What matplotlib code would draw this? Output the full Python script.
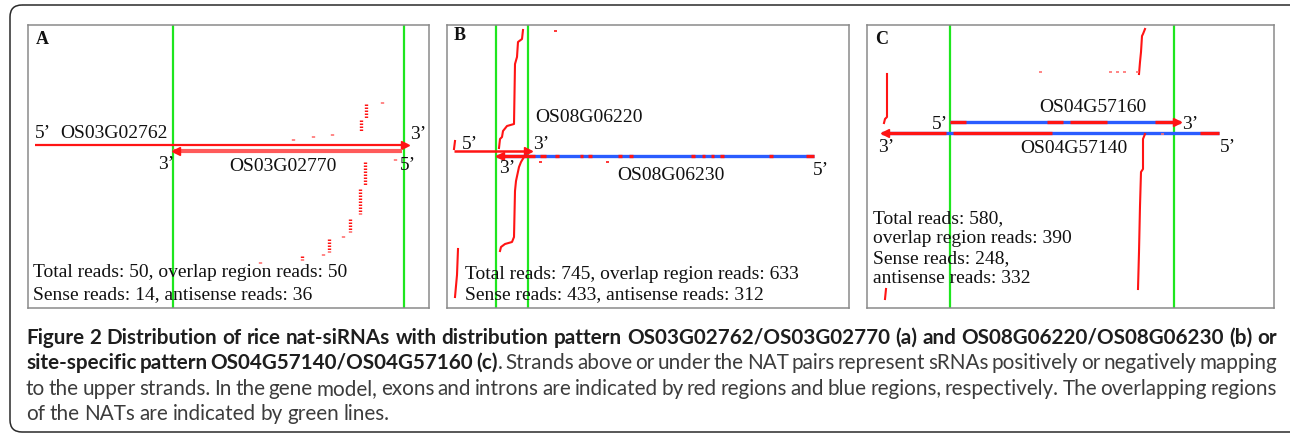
import numpy as np
import matplotlib
matplotlib.use('Agg')
import matplotlib.pyplot as plt
from matplotlib.patches import FancyBboxPatch

# ---- data (panel pixel-like units: x = locus position, y = stack depth from top) ----
# panel A : OS03G02762 / OS03G02770
a_upper = (7, 380, 120)           # start, end, y   (arrow points right)
a_lower = (145, 374, 126)         # arrow points left
a_overlap = [145, 376]
a_sense_x = [265, 285, 304, 333, 338, 354]
a_sense_top = [114, 111, 109, 95, 79, 77]
a_sense_bot = [115, 112, 110, 106, 94, 78]
a_anti_x = [337, 332, 322, 315, 301, 295, 274, 232, 367]
a_anti_top = [137, 164, 194, 211, 214, 229, 231, 237, 134]
a_anti_bot = [161, 189, 207, 212, 227, 230, 235, 238, 135]

# panel B : OS08G06220 / OS08G06230
b_upper = (7, 84, 126)
b_lower = (50, 367, 131)
b_lower_exons = [(50, 88), (93, 99), (108, 112), (133, 136), (141, 145), (171, 175),
                 (182, 186), (244, 248), (255, 258), (264, 267), (273, 277),
                 (322, 326), (359, 367)]
b_overlap = [49, 81]
b_sense_x = [76, 75, 71, 70, 68, 67, 60, 56, 55, 53, 52]
b_sense_y = [5, 14, 17, 32, 39, 99, 101, 106, 112, 114, 123]
b_anti_x = [77, 74, 72, 69, 68, 67, 65, 58, 54, 53]
b_anti_y = [132, 137, 142, 156, 166, 212, 217, 219, 222, 226]
b_edge_sense_x, b_edge_sense_y = [8, 7], [116, 124]
b_edge_anti_x, b_edge_anti_y = [11, 10, 8], [224, 250, 272]
b_single_x = [108, 93, 160]
b_single_y = [6, 137, 137]

# panel C : OS04G57160 / OS04G57140
c_upper = (83, 313, 97)
c_upper_exons = [(83, 99), (180, 196), (203, 240), (288, 313)]
c_lower = (15, 352, 108)
c_lower_exons = [(15, 79), (86, 185), (333, 352)]
c_overlap = [83, 307]
c_sense_x = [278, 276, 275, 274, 273, 272]
c_sense_y = [4, 9, 11, 27, 37, 49]
c_sense2_x = [20, 20, 18, 17]
c_sense2_y = [49, 92, 94, 98]
c_anti_x = [278, 276, 276, 274, 273, 272, 271]
c_anti_y = [109, 114, 144, 147, 181, 227, 264]
c_anti2_x, c_anti2_y = [19, 18], [264, 274]
c_single_x = [173, 243, 250, 257, 270, 295]
c_single_y = [47, 47, 47, 47, 47, 109]

RED = '#ff1414'
BLUE = '#2a5cff'
GREEN = '#1ee61e'
SERIF = 'Liberation Serif'

W, H = 1290, 435
fig = plt.figure(figsize=(12.9, 4.35), dpi=100)

bg = fig.add_axes([0, 0, 1, 1])
bg.set_xlim(0, W)
bg.set_ylim(H, 0)
bg.axis('off')
bg.add_patch(FancyBboxPatch((10, 6), 1310, 427, boxstyle='round,pad=0,rounding_size=12',
                            fill=False, ec='#2a2a2a', lw=1.1))


def panel(x0, y0, x1, y1):
    ax = fig.add_axes([x0 / W, 1 - y1 / H, (x1 - x0) / W, (y1 - y0) / H])
    ax.set_xlim(0, x1 - x0)
    ax.set_ylim(y1 - y0, 0)
    ax.set_xticks([])
    ax.set_yticks([])
    for s in ax.spines.values():
        s.set_color('#8a8a8a')
        s.set_linewidth(1.1)
    return ax


def gene(ax, g, exons=None, direction=1, lw=2.2, color=RED):
    x0, x1, y = g
    if exons is None:
        ax.plot([x0, x1], [y, y], color=color, lw=lw, solid_capstyle='butt')
    else:
        ax.plot([x0, x1], [y, y], color=BLUE, lw=lw, solid_capstyle='butt')
        for e0, e1 in exons:
            ax.plot([e0, e1], [y, y], color=RED, lw=lw, solid_capstyle='butt')
    if direction > 0:
        ax.plot([x1 - 3], [y], marker='>', ms=6, color=RED, mec=RED)
    else:
        ax.plot([x0 + 3], [y], marker='<', ms=6, color=RED, mec=RED)


def label(ax, x, y, s, ha='left', size=14, weight='normal'):
    ax.text(x, y, s, ha=ha, va='center', family=SERIF, fontsize=size,
            fontweight=weight, color='#111111')


# ---- panel A ----
ax = panel(28, 26, 429, 309)
for x in a_overlap:
    ax.axvline(x, color=GREEN, lw=1.6)
gene(ax, a_upper, direction=1, lw=1.6)
gene(ax, a_lower, direction=-1, lw=3.0, color='#ff5a5a')
ax.vlines(a_sense_x, a_sense_top, a_sense_bot, color=RED, lw=2.4, linestyles=(0, (0.45, 0.45)))
ax.vlines(a_anti_x, a_anti_top, a_anti_bot, color=RED, lw=2.4, linestyles=(0, (0.45, 0.45)))
label(ax, 8, 13, 'A', size=13, weight='bold')
label(ax, 7, 108, '5’')
label(ax, 32, 108, 'OS03G02762')
label(ax, 382, 109, '3’')
label(ax, 130, 139, '3’')
label(ax, 255, 141, 'OS03G02770', ha='center')
label(ax, 372, 140, '5’')
label(ax, 5, 247, 'Total reads: 50, overlap region reads: 50')
label(ax, 5, 269, 'Sense reads: 14, antisense reads: 36')

# ---- panel B ----
ax = panel(447, 26, 849, 309)
for x in b_overlap:
    ax.axvline(x, color=GREEN, lw=1.6)
gene(ax, b_upper, direction=1, lw=1.8)
gene(ax, b_lower, exons=b_lower_exons, direction=-1, lw=2.4)
for xs, ys in [(b_sense_x, b_sense_y), (b_anti_x, b_anti_y),
               (b_edge_sense_x, b_edge_sense_y), (b_edge_anti_x, b_edge_anti_y)]:
    ax.plot(xs, ys, color=RED, lw=1.5)
ax.hlines(b_single_y, np.array(b_single_x) - 1.5, np.array(b_single_x) + 1.5, color=RED, lw=1.2)
label(ax, 7, 10, 'B', size=13, weight='bold')
label(ax, 15, 119, '5’')
label(ax, 86, 119, '3’')
label(ax, 88, 92, 'OS08G06220')
label(ax, 52, 143, '3’')
label(ax, 224, 150, 'OS08G06230', ha='center')
label(ax, 366, 145, '5’')
label(ax, 18, 249, 'Total reads: 745, overlap region reads: 633')
label(ax, 18, 269, 'Sense reads: 433, antisense reads: 312')

# ---- panel C ----
ax = panel(867, 26, 1274, 309)
for x in c_overlap:
    ax.axvline(x, color=GREEN, lw=1.6)
gene(ax, c_upper, exons=c_upper_exons, direction=1, lw=2.4)
gene(ax, c_lower, exons=c_lower_exons, direction=-1, lw=2.4)
for xs, ys in [(c_sense_x, c_sense_y), (c_sense2_x, c_sense2_y),
               (c_anti_x, c_anti_y), (c_anti2_x, c_anti2_y)]:
    ax.plot(xs, ys, color=RED, lw=1.5)
ax.hlines(c_single_y, np.array(c_single_x) - 1.5, np.array(c_single_x) + 1.5, color='#ff7070', lw=1.2)
label(ax, 8, 13, 'C', size=13, weight='bold')
label(ax, 226, 81, 'OS04G57160', ha='center')
label(ax, 65, 99, '5’')
label(ax, 315, 99, '3’')
label(ax, 11, 122, '3’')
label(ax, 207, 123, 'OS04G57140', ha='center')
label(ax, 353, 122, '5’')
for i, s in enumerate(['Total reads: 580,', 'overlap region reads: 390',
                       'Sense reads: 248,', 'antisense reads: 332']):
    label(ax, 6, 193 + 20 * i, s)

# ---- caption (justified) ----
CAP_FONT = 'Lato'
bold_1 = ('Figure 2 Distribution of rice nat-siRNAs with distribution pattern '
          'OS03G02762/OS03G02770 (a) and OS08G06220/OS08G06230 (b) or')
bold_2 = 'site-specific pattern OS04G57140/OS04G57160 (c)'
reg_2 = '. Strands above or under the NAT pairs represent sRNAs positively or negatively mapping'
reg_3 = ('to the upper strands. In the gene model, exons and introns are indicated by red '
         'regions and blue regions, respectively. The overlapping regions')
reg_4 = 'of the NATs are indicated by green lines.'
X0, X1 = 26, 1277

renderer = fig.canvas.get_renderer()

# pick the size at which the first (bold) line fills the column width
probe = bg.text(0, 0, bold_1, family=CAP_FONT, fontsize=12, fontweight='bold')
CAP_SIZE = 12 * (X1 - X0) / probe.get_window_extent(renderer).width * 0.995
probe.remove()


def tokens(text, bold, glue_first=False):
    out = []
    for i, w in enumerate(text.split(' ')):
        if w:
            out.append([w, bold, not (i == 0 and glue_first)])
    return out


def caption_line(toks, y, x0=X0, x1=X1, justify=True):
    arts = []
    for w, b, sp in toks:
        t = bg.text(0, y, w, ha='left', va='center', family=CAP_FONT, fontsize=CAP_SIZE,
                    fontweight='bold' if b else 'normal',
                    color='#1e1e1e' if b else '#3c3c3c')
        arts.append((t, sp))
    widths = [t.get_window_extent(renderer).width for t, _ in arts]
    ngap = sum(1 for i, (_, sp) in enumerate(arts) if i > 0 and sp)
    natural = CAP_SIZE * 100 / 72 * 0.22
    gap = (x1 - x0 - sum(widths)) / ngap if justify else natural
    x = x0
    for i, ((t, sp), w) in enumerate(zip(arts, widths)):
        if i > 0 and sp:
            x += gap
        t.set_x(x)
        x += w


caption_line(tokens(bold_1, True), 338)
caption_line(tokens(bold_2, True) + tokens(reg_2, False, glue_first=True), 363)
caption_line(tokens(reg_3, False), 389)
caption_line(tokens(reg_4, False), 414, justify=False)

fig.savefig('out.png', dpi=100)
